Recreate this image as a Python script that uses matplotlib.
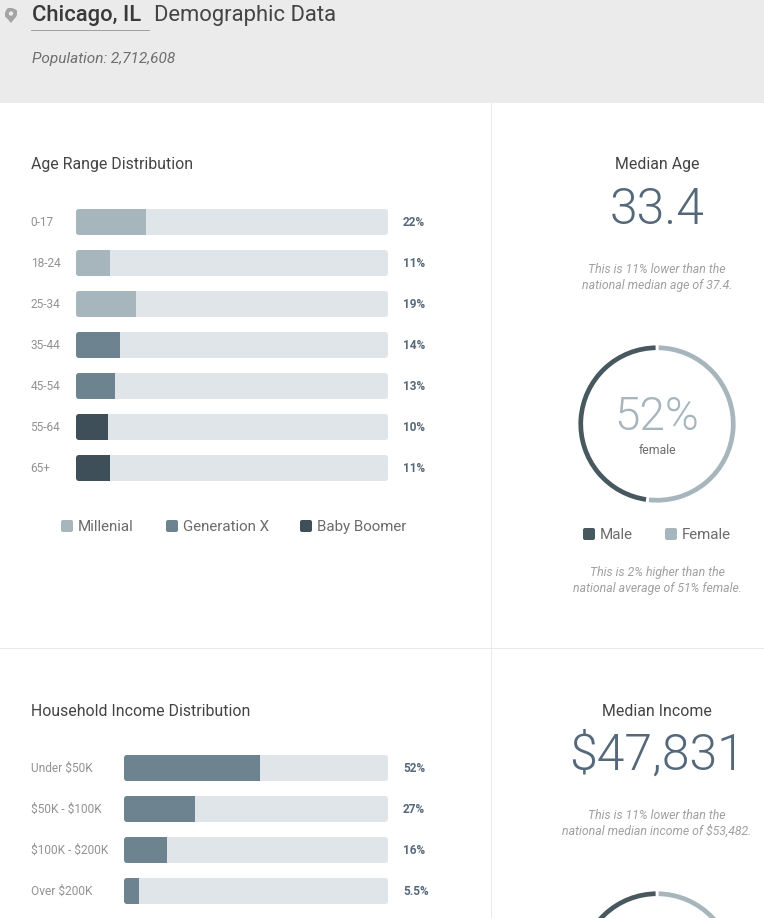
import matplotlib
matplotlib.use("Agg")
import matplotlib.pyplot as plt
from matplotlib.patches import FancyBboxPatch, Rectangle, Circle, PathPatch
from matplotlib.path import Path
from matplotlib.transforms import IdentityTransform, ScaledTranslation

W, H = 764, 918
plt.rcParams['font.family'] = ['Roboto', 'DejaVu Sans']
plt.rcParams['text.parse_math'] = False

age_labels = ["0-17", "18-24", "25-34", "35-44", "45-54", "55-64", "65+"]
age_bar_values = [22.4, 10.9, 19.2, 14.1, 12.5, 10.3, 10.9]
age_text = ["22%", "11%", "19%", "14%", "13%", "10%", "11%"]
age_groups = ["m", "m", "m", "x", "x", "b", "b"]

income_labels = ["Under $50K", "$50K - $100K", "$100K - $200K", "Over $200K"]
income_bar_values = [51.5, 26.9, 16.3, 5.7]
income_text = ["52%", "27%", "16%", "5.5%"]

gender_labels = ["Female", "Male"]
gender_values = [52, 48]
income_gender_values = [52, 48]

TRACK = "#e0e5e9"
MILL = "#a7b5bd"
GENX = "#6d838f"
BOOM = "#3e4f5a"
MALE = "#47585f"
group_colors = {"m": MILL, "x": GENX, "b": BOOM}
TITLE = "#444444"
GREY = "#929292"
LEGEND = "#6c6c6c"
NOTE = "#a0a0a0"
NUM = "#55687a"

fig = plt.figure(figsize=(W / 100, H / 100), dpi=100, facecolor="white")


def px_axes(x0, y0, x1, y1, **kw):
    return fig.add_axes([x0 / W, 1 - y1 / H, (x1 - x0) / W, (y1 - y0) / H], **kw)


# overlay in pixel coordinates for the page furniture
page = px_axes(0, 0, W, H)
page.set_xlim(0, W)
page.set_ylim(H, 0)
page.axis("off")

page.add_patch(Rectangle((0, 0), W, 103, color="#ebebeb", lw=0))
page.plot([491, 491], [103, H], color="#e9e9e9", lw=0.72)
page.plot([0, W], [648, 648], color="#e9e9e9", lw=0.72)

# location pin
pin = Path([(11, 23), (7, 18), (5, 16.5), (5, 14), (5, 10.5), (8, 8), (11, 8),
            (14, 8), (17, 10.5), (17, 14), (17, 16.5), (15, 18), (11, 23)],
           [Path.MOVETO, Path.CURVE3, Path.CURVE3, Path.LINETO, Path.CURVE3, Path.CURVE3, Path.LINETO,
            Path.CURVE3, Path.CURVE3, Path.LINETO, Path.CURVE3, Path.CURVE3, Path.CLOSEPOLY])
page.add_patch(PathPatch(pin, fc="#a3a3a3", lw=0))
page.add_patch(Circle((11, 13.5), 2.2, fc="#ebebeb", lw=0))

page.text(32.5, 16, "Chicago, IL", fontsize=15.8, fontweight="medium", color="#3a3a3a", va="center")
page.plot([31, 149], [30, 30], color="#a0a0a0", lw=0.72)
page.text(154, 16, "Demographic Data", fontsize=15.8, color="#444444", va="center")
page.text(32, 59, "Population: 2,712,608", fontsize=11.1, style="italic", color="#6e6e6e", va="center")

page.text(31, 164, "Age Range Distribution", fontsize=11.4, color=TITLE, va="center")
page.text(31, 710, "Household Income Distribution", fontsize=11.4, color=TITLE, va="center_baseline")

cx = 657
page.text(cx, 164, "Median Age", fontsize=11.4, color=TITLE, ha="center", va="center")
page.text(cx, 205, "33.4", fontsize=36, fontweight=300, color=NUM, ha="center", va="center_baseline")
page.text(cx, 277.5, "This is 11% lower than the\nnational median age of 37.4.", fontsize=8.8, style="italic",
          color=NOTE, ha="center", va="center", linespacing=1.3)
page.text(cx, 710, "Median Income", fontsize=11.4, color=TITLE, ha="center", va="center_baseline")
page.text(cx, 751, "$47,831", fontsize=36, fontweight=300, color=NUM, ha="center", va="center_baseline")
page.text(cx, 823.5, "This is 11% lower than the\nnational median income of $53,482.", fontsize=8.8, style="italic",
          color=NOTE, ha="center", va="center", linespacing=1.3)
page.text(cx, 412, "52%", fontsize=33, fontweight=300, color=MILL, ha="center", va="center_baseline")
page.text(cx, 450, "female", fontsize=8.8, color="#6c6c6c", ha="center", va="center")
page.text(cx, 580.5, "This is 2% higher than the\nnational average of 51% female.", fontsize=8.8, style="italic",
          color=NOTE, ha="center", va="center", linespacing=1.3)


def swatch(x, y, color, label):
    page.add_patch(FancyBboxPatch((x + 2, y - 4), 8, 8, boxstyle="round,pad=2,rounding_size=2", fc=color, lw=0))
    page.text(x + 16.7, y + 1, label, fontsize=10.9, color=LEGEND, va="center")


swatch(61, 526, MILL, "Millenial")
swatch(166, 526, GENX, "Generation X")
swatch(300, 526, BOOM, "Baby Boomer")
swatch(583, 534, MALE, "Male")
swatch(665, 534, MILL, "Female")


def draw_bars(top, left, labels, values, texts, colors):
    bottom = top + 41 * len(labels)
    ax = px_axes(left, top - 7.5, 388, bottom - 7.5)
    ax.patch.set_alpha(0)
    ys = list(range(len(labels)))
    tracks = ax.barh(ys, [100] * len(ys), height=26 / 41, color=TRACK, lw=0)
    fills = ax.barh(ys, values, height=26 / 41, color=colors, lw=0)
    ax.set_xlim(0, 100)
    ax.set_ylim(len(labels) - 0.5, -0.5)
    ax.set_xticks([])
    ax.set_yticks(ys, labels, fontsize=8.6, color=GREY, ha="left")
    ax.tick_params(axis="y", length=0, pad=(left - 31) * 0.72)
    nudge = ScaledTranslation(-0.4 / 100, 1 / 100, fig.dpi_scale_trans)
    for lab in ax.get_yticklabels():
        lab.set_transform(lab.get_transform() + nudge)
    for s in ax.spines.values():
        s.set_visible(False)
    # rounded corners, clip each bar to its track outline
    fig.canvas.draw()
    for track, fill in zip(tracks, fills):
        box = track.get_window_extent()
        track.set_visible(False)
        rounded = FancyBboxPatch((box.x0 + 3, box.y0 + 3), box.width - 6, box.height - 6,
                                 boxstyle="round,pad=3,rounding_size=3", fc=TRACK, lw=0,
                                 transform=IdentityTransform(), zorder=1)
        ax.add_patch(rounded)
        fill.set_zorder(2)
        fill.set_clip_path(rounded)
    for y, t in zip(ys, texts):
        ax.annotate(t, (100, y), xytext=(15 * 0.72, -0.7), textcoords="offset points", fontsize=8.5,
                    fontweight="bold", color=NUM, va="center", annotation_clip=False)


draw_bars(209, 76, age_labels, age_bar_values, age_text, [group_colors[g] for g in age_groups])
draw_bars(755, 124, income_labels, income_bar_values, income_text, [GENX] * len(income_labels))


def donut(cy, values):
    r = 80
    ax = px_axes(cx - r, cy - r, cx + r, cy + r)
    ax.pie(values, colors=[MILL, MALE], startangle=90, counterclock=False, radius=1,
           wedgeprops=dict(width=7.5 / r, edgecolor="white", linewidth=2))
    ax.set_xlim(-1, 1)
    ax.set_ylim(-1, 1)


donut(424, gender_values)
donut(970, income_gender_values)

fig.savefig("out.png", dpi=100, facecolor="white")
